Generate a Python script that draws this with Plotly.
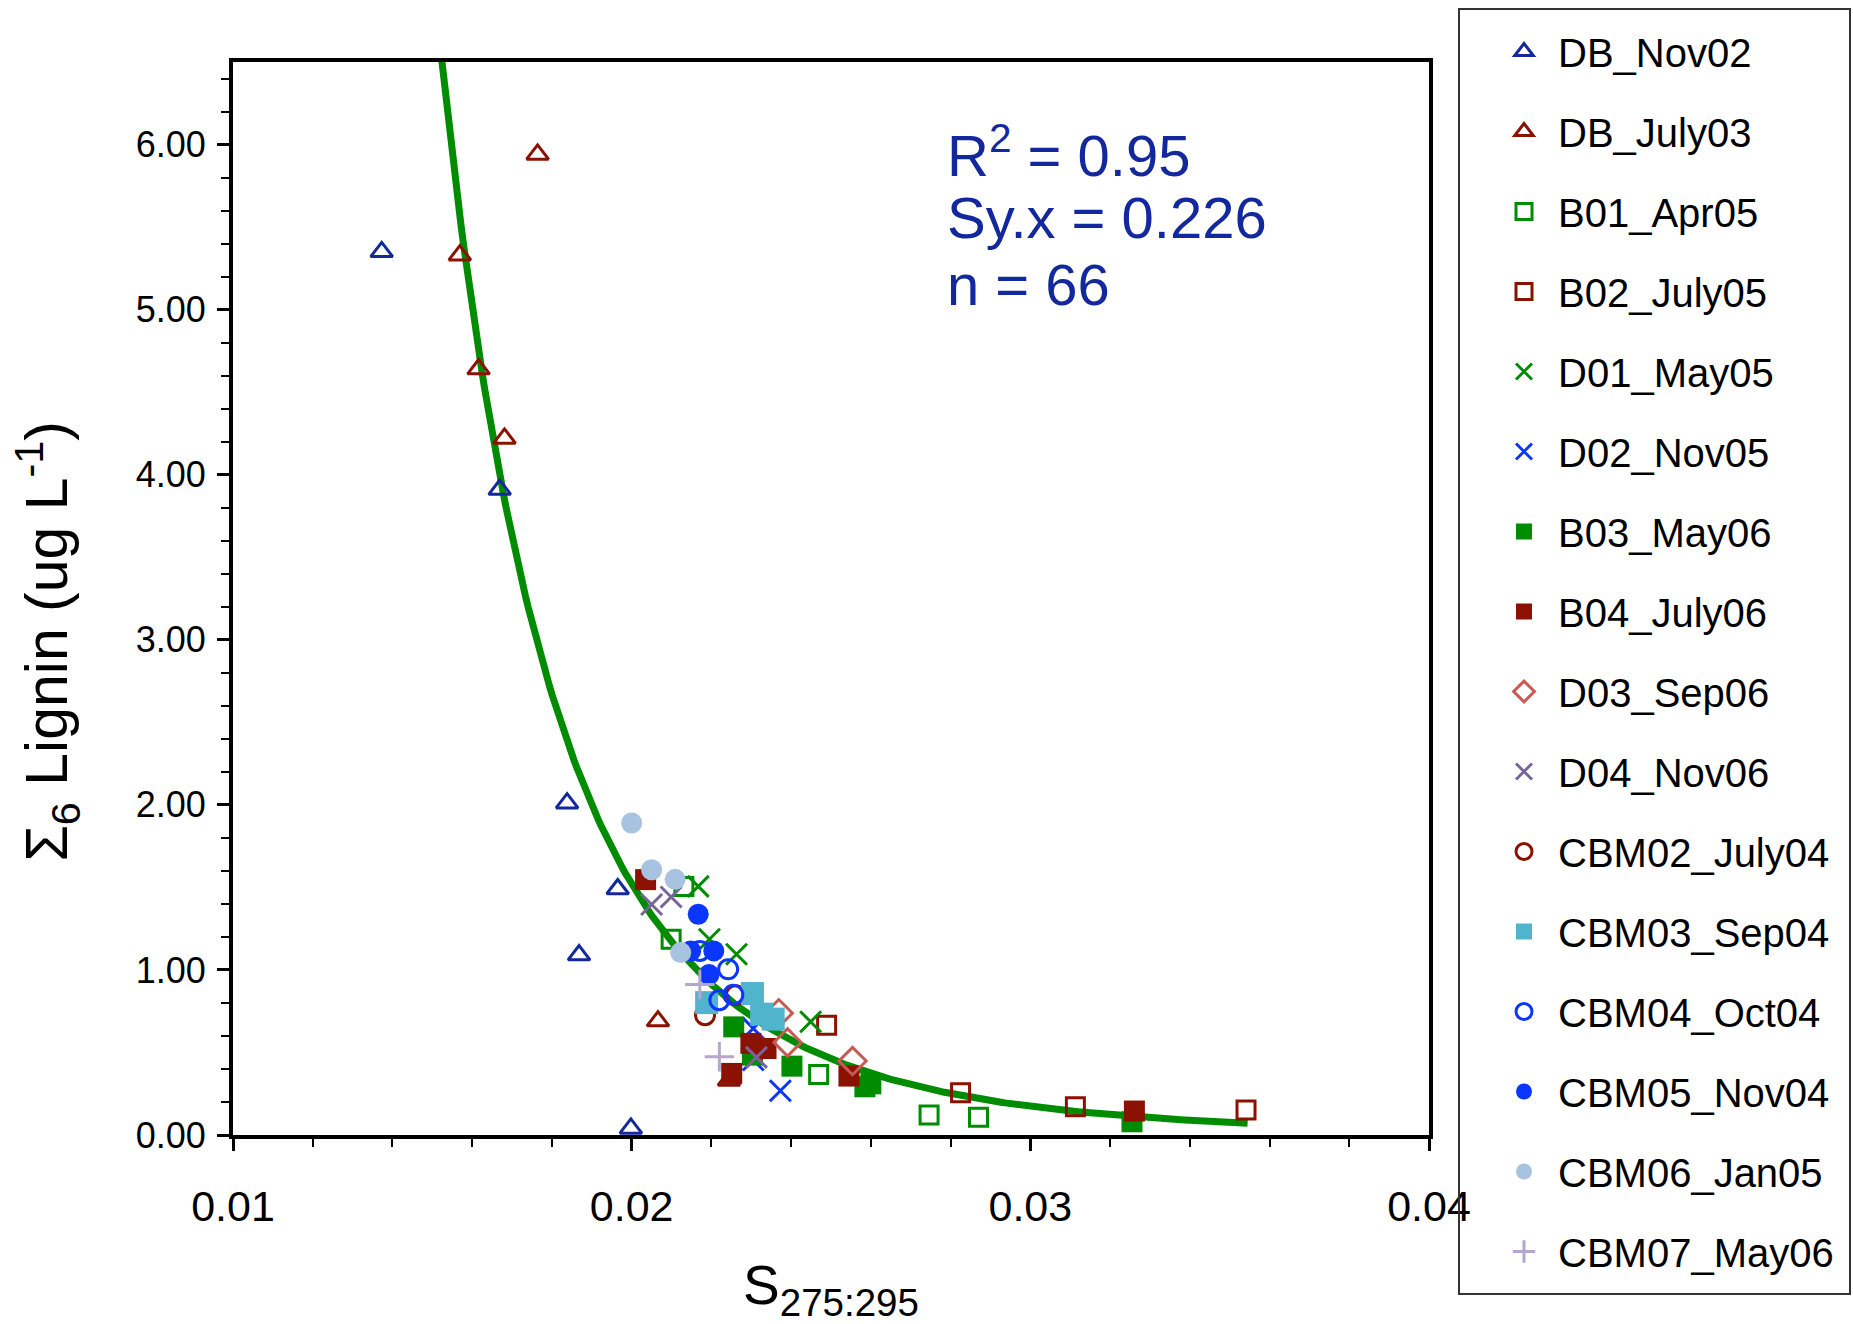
import numpy as np
import plotly.graph_objects as go

# ---------------- data ----------------
series_names = ["DB_Nov02", "DB_July03", "B01_Apr05", "B02_July05", "D01_May05",
                "D02_Nov05", "B03_May06", "B04_July06", "D03_Sep06", "D04_Nov06",
                "CBM02_July04", "CBM03_Sep04", "CBM04_Oct04", "CBM05_Nov04",
                "CBM06_Jan05", "CBM07_May06"]

db_nov02_x = [0.01373, 0.01669, 0.01838, 0.01965, 0.01868, 0.01998]
db_nov02_y = [5.35, 3.91, 2.01, 1.49, 1.09, 0.04]

db_july03_x = [0.01764, 0.01569, 0.01616, 0.01681, 0.02066, 0.02244]
db_july03_y = [5.94, 5.33, 4.64, 4.22, 0.69, 0.33]

b01_apr05_x = [0.02131, 0.02099, 0.02469, 0.02746, 0.02870]
b01_apr05_y = [1.506, 1.186, 0.367, 0.121, 0.107]

b02_july05_x = [0.02489, 0.02825, 0.03113, 0.03541]
b02_july05_y = [0.665, 0.256, 0.171, 0.151]

d01_may05_x = [0.02167, 0.02195, 0.02263, 0.02449]
d01_may05_y = [1.506, 1.186, 1.095, 0.686]

d02_nov05_x = [0.02305, 0.02305, 0.02373]
d02_nov05_y = [0.646, 0.454, 0.268]

b03_may06_x = [0.02256, 0.02303, 0.02402, 0.02585, 0.02600, 0.03255]
b03_may06_y = [0.655, 0.484, 0.417, 0.292, 0.310, 0.080]

b04_july06_x = [0.02035, 0.02299, 0.02337, 0.02251, 0.02545, 0.03261]
b04_july06_y = [1.547, 0.555, 0.524, 0.373, 0.357, 0.145]

d03_sep06_x = [0.02369, 0.02391, 0.02554]
d03_sep06_y = [0.738, 0.561, 0.448]

d04_nov06_x = [0.02050, 0.02099, 0.02313]
d04_nov06_y = [1.396, 1.442, 0.470]

cbm02_july04_x = [0.02261, 0.02184]
cbm02_july04_y = [0.847, 0.726]

cbm03_sep04_x = [0.02188, 0.02303, 0.02326, 0.02355]
cbm03_sep04_y = [0.802, 0.857, 0.732, 0.702]

cbm04_oct04_x = [0.02171, 0.02242, 0.02220, 0.02255]
cbm04_oct04_y = [1.115, 1.004, 0.817, 0.850]

cbm05_nov04_x = [0.02167, 0.02148, 0.02206, 0.02194]
cbm05_nov04_y = [1.337, 1.115, 1.115, 0.972]

cbm06_jan05_x = [0.02000, 0.02050, 0.02109, 0.02123]
cbm06_jan05_y = [1.890, 1.607, 1.549, 1.105]

cbm07_may06_x = [0.02171, 0.02220]
cbm07_may06_y = [0.912, 0.474]

# power-law regression  y = exp(fit_ln_a) * x^(-fit_k)
fit_ln_a = -20.511
fit_k = 5.35
fit_x_start = 0.015238
fit_x_end = 0.03545

stats_lines = ["R<sup>2</sup> = 0.95", "Sy.x = 0.226", "n = 66"]

x_ticks = [0.01, 0.02, 0.03, 0.04]
y_ticks = [0, 1, 2, 3, 4, 5, 6]

# ---------------- styles ----------------
DKRED = "#8B1200"
GREEN = "#008C00"
BLUE = "#0A36FF"
NAVY = "#14289E"

styles = {
    "DB_Nov02":     dict(symbol="triangle-up-open", color=NAVY, size=19, lw=3),
    "DB_July03":    dict(symbol="triangle-up-open", color=DKRED, size=19, lw=3),
    "B01_Apr05":    dict(symbol="square-open", color=GREEN, size=18, lw=3),
    "B02_July05":   dict(symbol="square-open", color=DKRED, size=18, lw=3),
    "D01_May05":    dict(symbol="x-thin-open", color=GREEN, size=21, lw=3),
    "D02_Nov05":    dict(symbol="x-thin-open", color=BLUE, size=21, lw=3),
    "B03_May06":    dict(symbol="square", color=GREEN, size=21, lw=0),
    "B04_July06":   dict(symbol="square", color=DKRED, size=21, lw=0),
    "D03_Sep06":    dict(symbol="diamond-open", color="#C85A55", size=21, lw=3),
    "D04_Nov06":    dict(symbol="x-thin-open", color="#786496", size=21, lw=3),
    "CBM02_July04": dict(symbol="circle-open", color=DKRED, size=19, lw=3),
    "CBM03_Sep04":  dict(symbol="square", color="#50B4CC", size=23, lw=0),
    "CBM04_Oct04":  dict(symbol="circle-open", color=BLUE, size=19, lw=3),
    "CBM05_Nov04":  dict(symbol="circle", color=BLUE, size=21, lw=0),
    "CBM06_Jan05":  dict(symbol="circle", color="#A8C3E0", size=21, lw=0),
    "CBM07_May06":  dict(symbol="cross-thin-open", color="#B4A6CC", size=21, lw=3),
}

series_data = [
    (db_nov02_x, db_nov02_y), (db_july03_x, db_july03_y), (b01_apr05_x, b01_apr05_y),
    (b02_july05_x, b02_july05_y), (d01_may05_x, d01_may05_y), (d02_nov05_x, d02_nov05_y),
    (b03_may06_x, b03_may06_y), (b04_july06_x, b04_july06_y), (d03_sep06_x, d03_sep06_y),
    (d04_nov06_x, d04_nov06_y), (cbm02_july04_x, cbm02_july04_y), (cbm03_sep04_x, cbm03_sep04_y),
    (cbm04_oct04_x, cbm04_oct04_y), (cbm05_nov04_x, cbm05_nov04_y), (cbm06_jan05_x, cbm06_jan05_y),
    (cbm07_may06_x, cbm07_may06_y),
]

FONT = "Liberation Sans, Arial, Helvetica, sans-serif"

fig = go.Figure()

# regression curve (drawn first, beneath markers)
fx = np.linspace(fit_x_start, fit_x_end, 300)
fy = np.exp(fit_ln_a) * fx ** (-fit_k)
fig.add_trace(go.Scatter(x=fx, y=fy, mode="lines", line=dict(color=GREEN, width=7),
                         showlegend=False, hoverinfo="skip"))

for name, (xs, ys) in zip(series_names, series_data):
    s = styles[name]
    marker = dict(symbol=s["symbol"], color=s["color"], size=s["size"])
    if s["lw"]:
        marker["line"] = dict(color=s["color"], width=s["lw"])
    else:
        marker["line"] = dict(width=0)
    fig.add_trace(go.Scatter(x=xs, y=ys, mode="markers", name=name, marker=marker,
                             legendgroup=name))

# stats text
stat_y = [0.917, 0.8555, 0.7922]
for txt, yy in zip(stats_lines, stat_y):
    fig.add_annotation(text=txt, xref="paper", yref="paper", x=0.5953, y=yy,
                       xanchor="left", yanchor="middle", showarrow=False,
                       font=dict(family=FONT, size=58, color=NAVY))

# y-axis title
fig.add_annotation(text="\u03a3<sub>6</sub> Lignin (ug L<sup>-1</sup>)", xref="paper", yref="paper",
                   x=-0.155, y=0.4604, xanchor="center", yanchor="middle", textangle=-90,
                   showarrow=False, font=dict(family=FONT, size=59, color="black"))

# legend frame
fig.add_shape(type="rect", xref="paper", yref="paper",
              x0=(1459 - 233) / 1196, x1=(1850 - 233) / 1196,
              y0=(1135 - 1294) / 1073, y1=(1135 - 9) / 1073,
              line=dict(color="#333333", width=2), fillcolor="rgba(0,0,0,0)")

fig.update_layout(
    width=1853, height=1324,
    margin=dict(l=233, r=424, t=62, b=189),
    plot_bgcolor="white", paper_bgcolor="white",
    font=dict(family=FONT, color="black"),
    showlegend=True,
    legend=dict(x=(1490 - 233) / 1196, y=(1135 - 19) / 1073, xanchor="left", yanchor="top",
                font=dict(family=FONT, size=40, color="black"),
                tracegroupgap=25, traceorder="grouped", bgcolor="rgba(0,0,0,0)",
                borderwidth=0, itemwidth=58, maxheight=1320),
    xaxis=dict(range=[0.01, 0.04], tickvals=x_ticks, tickformat=".2f",
               ticks="outside", ticklen=12, tickwidth=3, tickcolor="black",
               showline=True, linewidth=4, linecolor="black", mirror=True,
               showgrid=False, zeroline=False, ticklabelstandoff=18,
               minor=dict(dtick=0.002, tick0=0.01, ticks="outside", ticklen=8, tickwidth=2,
                          tickcolor="black", showgrid=False),
               tickfont=dict(family=FONT, size=43, color="black"),
               title=dict(text="S<sub>275:295</sub>", font=dict(family=FONT, size=55, color="black"),
                          standoff=43)),
    yaxis=dict(range=[0, 6.5], tickvals=y_ticks, tickformat=".2f",
               ticks="outside", ticklen=12, tickwidth=3, tickcolor="black",
               showline=True, linewidth=4, linecolor="black", mirror=True,
               showgrid=False, zeroline=False, ticklabelstandoff=4,
               minor=dict(dtick=0.2, tick0=0, ticks="outside", ticklen=8, tickwidth=2,
                          tickcolor="black", showgrid=False),
               tickfont=dict(family=FONT, size=36, color="black")),
)

fig.write_html("out.html")
